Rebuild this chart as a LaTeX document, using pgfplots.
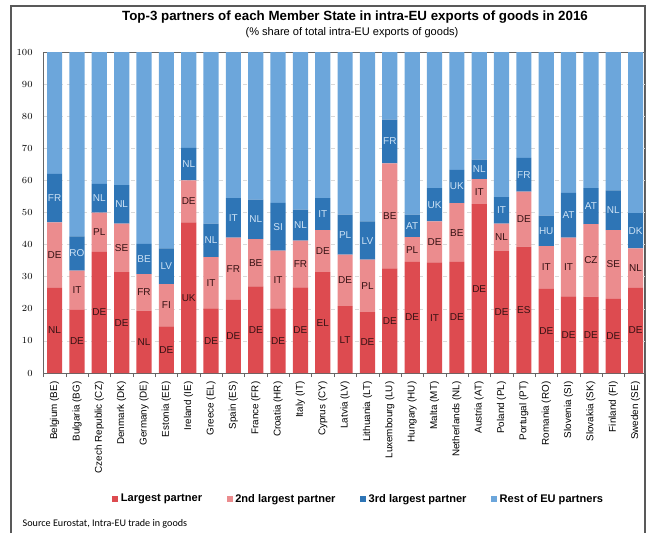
\documentclass[border=0pt]{standalone}
\usepackage{pgfplots}
\usepackage{pgfplotstable}
\pgfplotsset{compat=1.18}
\usepackage{fontspec}
\setmainfont{Liberation Sans}
\newfontfamily\srcfont{Carlito}
\definecolor{cRed}{RGB}{221,75,80}
\definecolor{cPink}{RGB}{235,140,142}
\definecolor{cBlue}{RGB}{46,117,182}
\definecolor{cLight}{RGB}{108,166,219}
\definecolor{cDarkTxt}{RGB}{55,18,20}
\definecolor{cLightTxt}{RGB}{205,226,245}

\pgfplotstableread{
x  r    p    b    rest lr lp lb
0  26.5 20.4 15.1 38.0 NL DE FR
1  19.7 12.2 10.7 57.4 DE IT RO
2  37.7 12.3 8.9  41.1 DE PL NL
3  31.4 15.1 12.0 41.5 DE SE NL
4  19.4 11.4 9.4  59.8 NL FR BE
5  14.5 13.2 11.1 61.2 DE FI LV
6  46.9 13.1 10.1 29.9 UK DE NL
7  20.1 16.0 10.4 53.5 DE IT NL
8  22.8 19.4 12.3 45.5 DE FR IT
9  27.0 14.7 12.3 46.0 DE BE NL
10 20.1 18.0 14.9 47.0 DE IT SI
11 26.7 14.5 9.7  49.1 DE FR NL
12 31.4 13.1 10.0 45.5 EL DE IT
13 20.8 16.1 12.4 50.7 LT DE PL
14 19.0 16.3 11.9 52.8 DE PL LV
15 32.6 32.7 13.6 21.1 DE BE FR
16 34.6 7.7  7.0  50.7 DE PL AT
17 34.5 12.7 10.4 42.4 IT DE UK
18 34.6 18.3 10.4 36.7 DE BE UK
19 52.6 7.8  6.1  33.5 DE IT NL
20 38.1 8.4  8.3  45.2 DE NL IT
21 39.4 17.1 10.5 33.0 ES DE FR
22 26.2 13.3 9.5  51.0 DE IT HU
23 23.9 18.3 13.9 43.9 DE IT AT
24 23.8 22.6 11.2 42.4 DE CZ AT
25 23.1 21.4 12.4 43.1 DE SE NL
26 26.5 12.3 11.0 50.2 DE NL DK
}\data

\pgfplotsset{
  commonaxis/.style={
    scale only axis,
    width=451.5pt, height=240.75pt,
    at={(32.25pt,120pt)}, anchor=south west,
    xmin=-0.52, xmax=26.42, ymin=0, ymax=100,
  }
}

\begin{document}
\begin{tikzpicture}
\path[use as bounding box] (0,0) rectangle (485.25pt,399.75pt);
% frame
\draw[black!65, line width=0.8pt] (8.25pt,0) -- (8.25pt,395.25pt) -- (483.75pt,395.25pt) -- (483.75pt,0);
% titles
\node[font=\bfseries\fontsize{10}{11}\selectfont] at (266.25pt,387pt) {Top-3 partners of each Member State in intra-EU exports of goods in 2016};
\node[font=\fontsize{8.3}{9}\selectfont] at (264pt,375pt) {(\% share of total intra-EU exports of goods)};
\node[font=\srcfont\fontsize{7.6}{8}\selectfont, anchor=west] at (13.5pt,6.75pt) {Source Eurostat, Intra-EU trade in goods};

\begin{axis}[commonaxis,
  ybar stacked, bar width=0.68,
  axis line style={black!60},
  ytick={0,10,...,100},
  ymajorgrids, grid style={black!15, dashed},
  xtick={0,...,26},
  xticklabels={Belgium (BE),Bulgaria (BG),Czech Republic (CZ),Denmark (DK),Germany (DE),Estonia (EE),Ireland (IE),Greece (EL),Spain (ES),France (FR),Croatia (HR),Italy (IT),Cyprus (CY),Latvia (LV),Lithuania (LT),Luxembourg (LU),Hungary (HU),Malta (MT),Netherlands (NL),Austria (AT),Poland (PL),Portugal (PT),Romania (RO),Slovenia (SI),Slovakia (SK),Finland (FI),Sweden (SE)},
  xticklabel style={rotate=90, anchor=east, font=\fontsize{7.4}{8}\selectfont, inner sep=1pt, xshift=-1pt},
  yticklabel style={font=\fontsize{7.5}{8}\selectfont},
  major x tick style={draw=none},
  minor xtick={-0.5,0.5,...,25.5},
  minor x tick style={black!60},
  minor tick length=3pt,
  ytick style={draw=none},
  tick align=outside,
  xtick pos=bottom,
  legend columns=4,
  legend style={at={(0.525,-0.393)}, anchor=center, draw=none, fill=none,
    font=\bfseries\fontsize{8.3}{9}\selectfont,
    /tikz/every even column/.append style={column sep=16.5pt}},
  legend image code/.code={\draw[#1, draw=none] (0pt,-2.2pt) rectangle (4.4pt,2.2pt);},
]
\addplot[fill=cRed, draw=none] table[x=x, y=r]{\data};
\addplot[fill=cPink, draw=none] table[x=x, y=p]{\data};
\addplot[fill=cBlue, draw=none] table[x=x, y=b]{\data};
\addplot[fill=cLight, draw=none] table[x=x, y=rest]{\data};
\legend{Largest partner, 2nd largest partner, 3rd largest partner, Rest of EU partners}
\end{axis}

\begin{axis}[commonaxis, hide axis]
\addplot[draw=none, nodes near coords, point meta=explicit symbolic,
  every node near coord/.append style={anchor=center, text=cDarkTxt, font=\fontsize{7.5}{8}\selectfont, inner sep=0pt}]
  table[x=x, y expr=\thisrow{r}/2, meta=lr]{\data};
\addplot[draw=none, nodes near coords, point meta=explicit symbolic,
  every node near coord/.append style={anchor=center, text=cDarkTxt, font=\fontsize{7.5}{8}\selectfont, inner sep=0pt}]
  table[x=x, y expr=\thisrow{r}+\thisrow{p}/2, meta=lp]{\data};
\addplot[draw=none, nodes near coords, point meta=explicit symbolic,
  every node near coord/.append style={anchor=center, text=cLightTxt, font=\fontsize{7.5}{8}\selectfont, inner sep=0pt}]
  table[x=x, y expr=\thisrow{r}+\thisrow{p}+\thisrow{b}/2, meta=lb]{\data};
\end{axis}
\end{tikzpicture}
\end{document}
